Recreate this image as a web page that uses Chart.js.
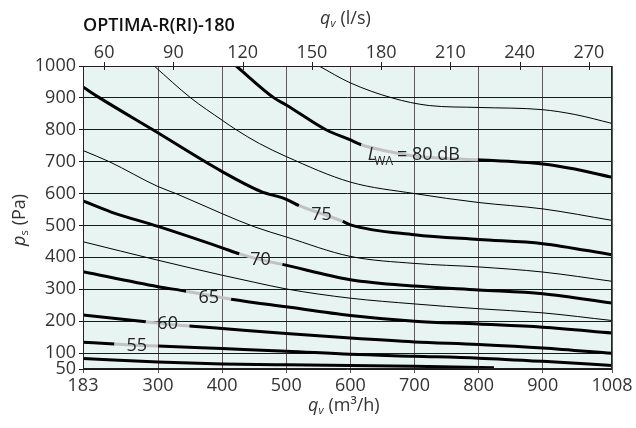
<!DOCTYPE html>
<html>
<head>
<meta charset="utf-8">
<script src="https://cdn.jsdelivr.net/npm/chart.js@4/dist/chart.umd.min.js"></script>
<style>
html, body { margin: 0; padding: 0; background: #fff; }
</style>
</head>
<body>
<canvas id="myChart" width="636" height="428"></canvas>
<script>
// axis ticks
const flowTicks = [183, 300, 400, 500, 600, 700, 800, 900, 1008];
const flowTicksLs = [60, 90, 120, 150, 180, 210, 240, 270];
const pressTicks = [50, 100, 200, 300, 400, 500, 600, 700, 800, 900, 1000];

// thick curves (sound power level), q in m3/h, p in Pa
const q50 = [183, 300, 400, 500, 600, 700, 824];
const p50 = [83, 72, 66, 63, 61, 59, 54];

const q55 = [183, 232, 267, 300, 400, 500, 600, 700, 800, 900, 1008];
const p55 = [134, 128, 124.5, 122, 114, 106, 96, 90, 84, 74, 61];

const q60 = [183, 281, 315, 349, 400, 500, 600, 700, 800, 900, 1008];
const p60 = [219, 198, 190, 185, 177, 161, 147, 135, 127, 116, 99];

const q65 = [183, 300, 344, 379, 414, 500, 600, 700, 800, 900, 1008];
const p65 = [355, 308, 294, 281, 269, 245, 218, 200, 191, 181, 163];

const q70 = [183, 227, 300, 400, 427, 460, 494, 600, 700, 800, 900, 1008];
const p70 = [577, 542, 497, 430, 411, 393, 378, 330, 310, 298, 286, 257];

const q75 = [183, 209, 292, 400, 460, 500, 520, 555, 588, 600, 700, 800, 900, 1008];
const p75 = [934, 900, 800, 669, 607, 582, 562, 537, 513, 502, 471, 456, 443, 408];

const q80 = [422, 481, 500, 562, 600, 617, 650, 700, 750, 799, 900, 950, 1008];
const p80 = [1000, 900, 878, 800, 768, 753, 736, 718, 710, 706, 693, 677, 651];

// grey parts under the labels (q from, q to)
const gap55 = [232, 300];
const gap60 = [281, 349];
const gap65 = [344, 414];
const gap70 = [427, 494];
const gap75 = [520, 588];
const gap80 = [617, 799];

// thin curves
const qA = [551, 600, 665, 723, 800, 900, 950, 1008];
const pA = [1000, 947, 900, 876, 870, 863, 848, 820];

const qB = [294, 351, 400, 422, 458, 500, 600, 700, 800, 900, 1008];
const pB = [1000, 900, 830, 800, 757, 716, 636, 600, 572, 552, 516];

const qC = [183, 224, 300, 328, 400, 450, 500, 600, 700, 800, 900, 1008];
const pC = [735, 700, 622, 600, 537, 496, 464, 403, 381, 370, 354, 325];

const qD = [183, 300, 400, 450, 500, 600, 700, 800, 900, 1008];
const pD = [449, 391, 344, 322, 301, 272, 254, 239, 226, 202];

// level labels: text, q, p
const levelText = ["55", "60", "65", "70", "75"];
const levelQ = [267, 315, 379, 460, 555];
const levelP = [124, 190, 274, 391, 533];

const FONT = "'Open Sans', 'Noto Sans', sans-serif";

function curve(qs, ps, width, gap) {
    let ds = {
        data: qs.map((q, i) => ({ x: q, y: ps[i] })),
        borderColor: "#000",
        borderWidth: width,
        pointRadius: 0,
        pointHoverRadius: 0,
        fill: false,
        cubicInterpolationMode: "monotone",
    };
    if (gap) {
        ds.segment = {
            borderColor: (ctx) => (ctx.p0.parsed.x >= gap[0] && ctx.p1.parsed.x <= gap[1] ? "#c2c2c2" : undefined),
        };
    }
    return ds;
}

const bgPlugin = {
    id: "bg",
    beforeDraw(chart) {
        const a = chart.chartArea;
        const ctx = chart.ctx;
        ctx.save();
        ctx.fillStyle = "#e8f4f1";
        ctx.fillRect(a.left, a.top, a.right - a.left, a.bottom - a.top);
        ctx.restore();
    },
};

function drawQv(ctx, x, y, rest) {
    // italic q with subscript v, then the unit
    ctx.font = "italic 18px " + FONT;
    ctx.fillText("q", x, y);
    let w = ctx.measureText("q").width;
    ctx.font = "italic 11px " + FONT;
    ctx.fillText("v", x + w, y + 3);
    w += ctx.measureText("v").width + 5;
    ctx.font = "18px " + FONT;
    ctx.fillText(rest, x + w, y);
}

const textPlugin = {
    id: "texts",
    afterDraw(chart) {
        const ctx = chart.ctx;
        const a = chart.chartArea;
        const sx = chart.scales.x;
        const sy = chart.scales.y;
        const sx2 = chart.scales.x2;
        ctx.save();

        // frame
        ctx.strokeStyle = "#222";
        ctx.lineWidth = 1;
        ctx.strokeRect(a.left + 0.5, a.top + 0.5, a.right - a.left - 1, a.bottom - a.top - 1);

        // top tick marks cross the frame
        ctx.beginPath();
        flowTicksLs.forEach((v) => {
            let px = Math.round(sx2.getPixelForValue(v)) + 0.5;
            ctx.moveTo(px, a.top - 4);
            ctx.lineTo(px, a.top + 4);
        });
        ctx.stroke();

        ctx.textBaseline = "alphabetic";

        // title
        ctx.font = "600 18px " + FONT;
        ctx.fillStyle = "#111";
        ctx.fillText("OPTIMA-R(RI)-180", 83, 31);

        // axis titles
        ctx.fillStyle = "#333";
        drawQv(ctx, 320, 24, "(l/s)");
        drawQv(ctx, 308, 411, "(m³/h)");

        ctx.save();
        ctx.translate(25, 246);
        ctx.rotate(-Math.PI / 2);
        ctx.font = "italic 18px " + FONT;
        ctx.fillText("p", 0, 0);
        let w = ctx.measureText("p").width;
        ctx.font = "11px " + FONT;
        ctx.fillText("s", w, 3);
        w += ctx.measureText("s").width + 5;
        ctx.font = "18px " + FONT;
        ctx.fillText("(Pa)", w, 0);
        ctx.restore();

        // level labels on the curves
        ctx.fillStyle = "#222";
        ctx.font = "18px " + FONT;
        ctx.textAlign = "center";
        ctx.textBaseline = "middle";
        levelText.forEach((t, i) => {
            ctx.fillText(t, sx.getPixelForValue(levelQ[i]), sy.getPixelForValue(levelP[i]));
        });

        // L_WA = 80 dB
        ctx.textAlign = "left";
        ctx.textBaseline = "alphabetic";
        let lx = sx.getPixelForValue(627);
        let ly = sy.getPixelForValue(706);
        ctx.font = "italic 18px " + FONT;
        ctx.fillText("L", lx, ly);
        let lw = ctx.measureText("L").width;
        ctx.font = "12px " + FONT;
        ctx.fillText("WA", lx + lw - 2, ly + 5);
        lw += ctx.measureText("WA").width + 2;
        ctx.font = "18px " + FONT;
        ctx.fillText("= 80 dB", lx + lw, ly);

        ctx.restore();
    },
};

const tickFont = { family: FONT, size: 18 };
const plainNum = (v) => String(v);

const ctx = document.getElementById("myChart");
const chart = new Chart(ctx, {
    type: "line",
    data: {
        datasets: [
            curve(qA, pA, 1),
            curve(qB, pB, 1),
            curve(qC, pC, 1),
            curve(qD, pD, 1),
            curve(q50, p50, 3),
            curve(q55, p55, 3, gap55),
            curve(q60, p60, 3, gap60),
            curve(q65, p65, 3, gap65),
            curve(q70, p70, 3, gap70),
            curve(q75, p75, 3, gap75),
            curve(q80, p80, 3, gap80),
        ],
    },
    options: {
        responsive: false,
        animation: false,
        events: [],
        layout: { padding: { left: 0, right: 24, top: 0, bottom: 0 } },
        plugins: {
            legend: { display: false },
            tooltip: { enabled: false },
        },
        scales: {
            x: {
                type: "linear",
                position: "bottom",
                min: 183,
                max: 1008,
                afterBuildTicks: (s) => {
                    s.ticks = flowTicks.map((v) => ({ value: v }));
                },
                afterFit: (s) => {
                    s.height = 59;
                },
                grid: { color: "#5a5a5a", lineWidth: 1, tickLength: 4 },
                border: { display: false },
                ticks: { color: "#333", font: tickFont, padding: 2, maxRotation: 0, autoSkip: false, callback: plainNum },
            },
            x2: {
                type: "linear",
                position: "top",
                min: 183 / 3.6,
                max: 1008 / 3.6,
                afterBuildTicks: (s) => {
                    s.ticks = flowTicksLs.map((v) => ({ value: v }));
                },
                afterFit: (s) => {
                    s.height = 66;
                },
                grid: { display: false, drawTicks: false },
                border: { display: false },
                ticks: { color: "#333", font: tickFont, padding: 2, maxRotation: 0, autoSkip: false, callback: plainNum },
            },
            y: {
                type: "linear",
                position: "left",
                min: 50,
                max: 1000,
                afterBuildTicks: (s) => {
                    s.ticks = pressTicks.map((v) => ({ value: v }));
                },
                afterFit: (s) => {
                    s.width = 83;
                },
                grid: { color: "#1a1a1a", lineWidth: 1, tickLength: 4 },
                border: { display: false },
                ticks: { color: "#333", font: tickFont, padding: 3, autoSkip: false, callback: plainNum },
            },
        },
    },
    plugins: [bgPlugin, textPlugin],
});
</script>
</body>
</html>
